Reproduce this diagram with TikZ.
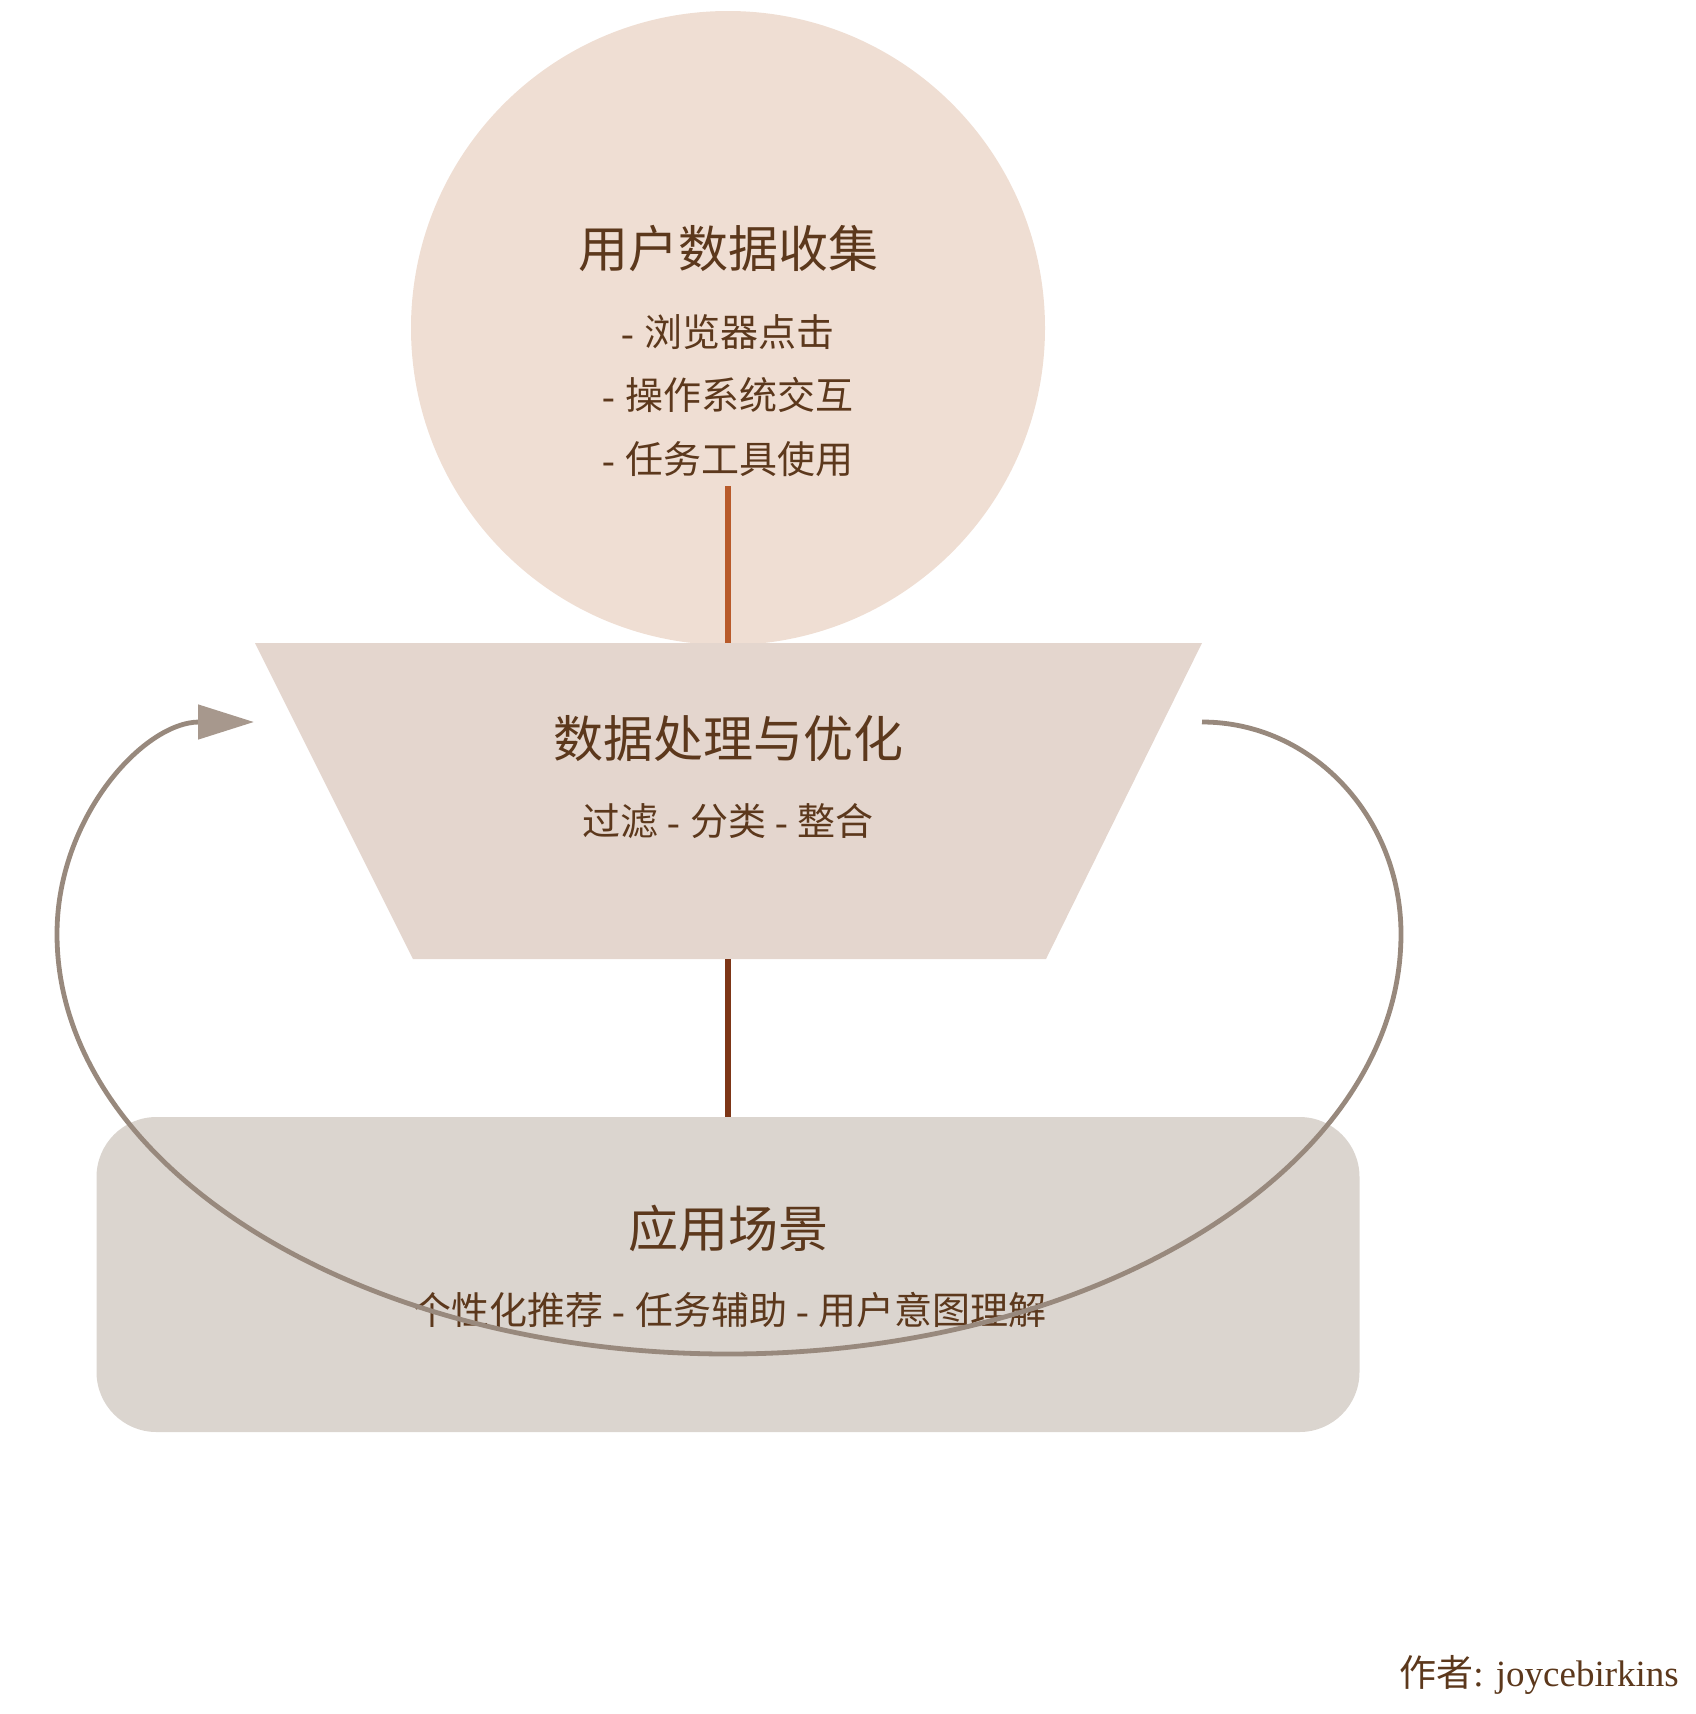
\documentclass[tikz,border=0pt]{standalone}
\usepackage{fontspec}
\setmainfont{Liberation Serif}
\newfontfamily\cjk{Noto Sans CJK SC}
\usetikzlibrary{arrows.meta}
\definecolor{textc}{RGB}{92,56,28}
\definecolor{circfill}{RGB}{239,222,211}
\definecolor{trapfill}{RGB}{228,214,206}
\definecolor{rectfill}{RGB}{219,213,207}
\definecolor{lineone}{RGB}{184,90,42}
\definecolor{linetwo}{RGB}{125,54,23}
\definecolor{loopc}{RGB}{152,137,125}
\definecolor{arrowc}{RGB}{167,152,141}
\tikzset{
  titletext/.style={text=textc, inner sep=0pt, font=\fontsize{50}{60}\selectfont},
  bodytext/.style={text=textc, inner sep=0pt, font=\fontsize{38}{46}\selectfont},
  upline/.style={draw=lineone, line width=6pt},
  downline/.style={draw=linetwo, line width=5.5pt},
  loopline/.style={draw=loopc, line width=4.8pt, -{Triangle[length=56pt,width=34pt,color=arrowc]}}
}
\begin{document}
\begin{tikzpicture}[x=1pt,y=-1pt]
\useasboundingbox (0,0) rectangle (1696,1714);
% circle: data collection
\node[circle, fill=circfill, minimum size=634pt, inner sep=0pt] (collect) at (728,328) {};
\node[titletext] (collectT) at (728,249) {\cjk 用户数据收集};
\node[bodytext] (collectA) at (728,332) {- {\cjk 浏览器点击}};
\node[bodytext] (collectB) at (728,395) {- {\cjk 操作系统交互}};
\node[bodytext] (collectC) at (728,459) {- {\cjk 任务工具使用}};
\coordinate (collectLine) at (728,486);
% trapezoid: processing
\fill[trapfill] (255,643) -- (1202,643) -- (1046,959) -- (413,959) -- cycle;
\coordinate (procTop) at (728,643);
\coordinate (procBot) at (728,959);
\coordinate (procE) at (1202,722);
\coordinate (procW) at (254,722);
\node[titletext] (procT) at (728,739) {\cjk 数据处理与优化};
\node[bodytext] (procS) at (728,821) {{\cjk 过滤} - {\cjk 分类} - {\cjk 整合}};
% rounded rectangle: applications
\node[rectangle, rounded corners=60pt, fill=rectfill, minimum width=1263pt, minimum height=315pt, inner sep=0pt] (apply) at (728,1274.5) {};
\node[titletext] (applyT) at (728,1228) {\cjk 应用场景};
\node[bodytext] (applyS) at (730,1310) {{\cjk 个性化推荐} - {\cjk 任务辅助} - {\cjk 用户意图理解}};
% connectors
\draw[upline] (collectLine) -- (procTop);
\draw[downline] (procBot) -- (apply.north);
\coordinate (loopR) at (1401,934);
\coordinate (loopB) at (728,1354);
\coordinate (loopL) at (57,934);
\draw[loopline] (procE) .. controls +(110,0) and +(0,-117) .. (loopR)
  .. controls +(0,232) and +(371,0) .. (loopB)
  .. controls +(-371,0) and +(0,232) .. (loopL)
  .. controls +(0,-117) and +(-110,0) .. (procW);
% author
\node[bodytext, anchor=east, font=\fontsize{37}{44}\selectfont] (author) at (1679,1675) {{\cjk 作者}: joycebirkins};
\end{tikzpicture}
\end{document}
